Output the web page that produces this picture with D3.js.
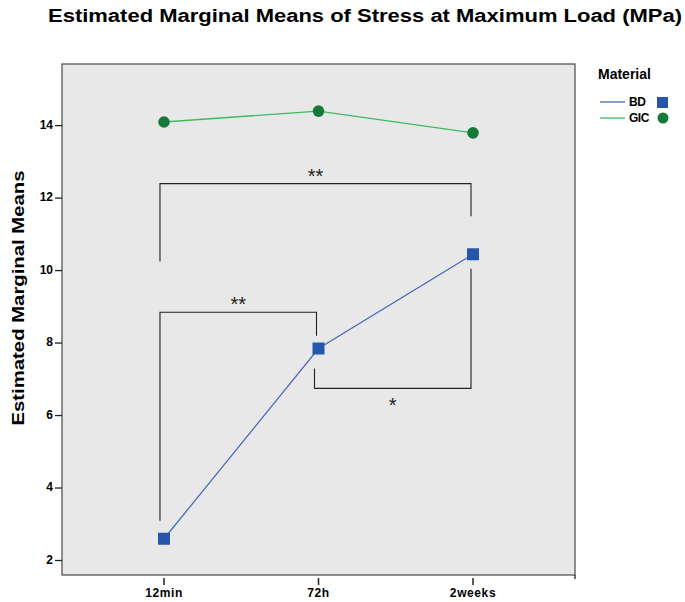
<!DOCTYPE html>
<html>
<head>
<meta charset="utf-8">
<script src="https://cdn.jsdelivr.net/npm/d3@7"></script>
<style>
  body { margin: 0; background: #fff; }
  text { font-family: "Liberation Sans", Arial, sans-serif; }
</style>
</head>
<body>
<svg id="chart" width="685" height="602"></svg>
<script>
// data
var times = ["12min", "72h", "2weeks"];
var bdMeans = [2.6, 7.85, 10.45];
var gicMeans = [14.1, 14.4, 13.8];
var yTicks = [2, 4, 6, 8, 10, 12, 14];

// significance brackets: from / to category, y of left end, bar, right end
var brackets = [
  { a: 0, b: 2, y1: 10.25, y2: 12.4, y3: 11.5, label: "**" },
  { a: 0, b: 1, y1: 3.1, y2: 8.85, y3: 8.2, label: "**" },
  { a: 1, b: 2, y1: 7.3, y2: 6.75, y3: 10.05, label: "*" }
];

var svg = d3.select("#chart");
var plotL = 62, plotR = 575, plotT = 64, plotB = 575;

var x = d3.scalePoint().domain(times).range([plotL, plotR]).padding(0.66);
var y = d3.scaleLinear().domain([1.6, 15.7]).range([plotB, plotT]);

// title
svg.append("text")
  .attr("x", 48).attr("y", 22)
  .attr("font-size", 18).attr("font-weight", "bold")
  .attr("textLength", 634).attr("lengthAdjust", "spacingAndGlyphs")
  .text("Estimated Marginal Means of Stress at Maximum Load (MPa)");

// plot area
svg.append("rect")
  .attr("x", plotL).attr("y", plotT)
  .attr("width", plotR - plotL).attr("height", plotB - plotT)
  .attr("fill", "#e8e8e8")
  .attr("stroke", "#555").attr("stroke-width", 1.3);

// y axis ticks
var yg = svg.append("g");
yTicks.forEach(function(t){
  yg.append("line")
    .attr("x1", plotL - 7).attr("x2", plotL)
    .attr("y1", y(t)).attr("y2", y(t))
    .attr("stroke", "#222").attr("stroke-width", 1.3);
  yg.append("text")
    .attr("x", plotL - 9).attr("y", y(t) + 3)
    .attr("text-anchor", "end")
    .attr("font-size", 12).attr("font-weight", "bold")
    .text(t);
});

svg.append("text")
  .attr("transform", "translate(24,298) rotate(-90)")
  .attr("text-anchor", "middle")
  .attr("font-size", 17).attr("font-weight", "bold")
  .attr("textLength", 255).attr("lengthAdjust", "spacingAndGlyphs")
  .text("Estimated Marginal Means");

// x axis ticks
var xg = svg.append("g");
times.forEach(function(t){
  xg.append("line")
    .attr("x1", x(t)).attr("x2", x(t))
    .attr("y1", plotB + 3).attr("y2", plotB + 10)
    .attr("stroke", "#222").attr("stroke-width", 1.5);
  xg.append("text")
    .attr("x", x(t)).attr("y", 597)
    .attr("text-anchor", "middle")
    .attr("font-size", 12).attr("font-weight", "bold")
    .attr("letter-spacing", 0.6)
    .text(t);
});
xg.append("line")
  .attr("x1", plotR).attr("x2", plotR)
  .attr("y1", plotB).attr("y2", plotB + 4)
  .attr("stroke", "#222").attr("stroke-width", 1.3);

// brackets
var bg = svg.append("g");
brackets.forEach(function(b){
  var xa = x(times[b.a]) - 4, xb = x(times[b.b]) - 2;
  var pts = [[xa, y(b.y1)], [xa, y(b.y2)], [xb, y(b.y2)], [xb, y(b.y3)]];
  bg.append("path")
    .attr("d", d3.line()(pts))
    .attr("fill", "none").attr("stroke", "#222").attr("stroke-width", 1.1);
  bg.append("text")
    .attr("x", (xa + xb) / 2)
    .attr("y", b.y2 > b.y1 || b.y2 > b.y3 ? y(b.y2) - 1 : y(b.y2) + 24)
    .attr("text-anchor", "middle")
    .attr("font-size", 20)
    .attr("fill", "#222")
    .text(b.label);
});

// series lines
var line = d3.line().x(function(d, i){ return x(times[i]); }).y(function(d){ return y(d); });

svg.append("path").datum(gicMeans)
  .attr("d", line).attr("fill", "none")
  .attr("stroke", "#3dbb5c").attr("stroke-width", 1.3);
svg.append("path").datum(bdMeans)
  .attr("d", line).attr("fill", "none")
  .attr("stroke", "#4a6cb8").attr("stroke-width", 1.3);

svg.selectAll(".gic").data(gicMeans).enter().append("circle")
  .attr("class", "gic")
  .attr("cx", function(d, i){ return x(times[i]); })
  .attr("cy", function(d){ return y(d); })
  .attr("r", 5.8)
  .attr("fill", "#137a3a");

svg.selectAll(".bd").data(bdMeans).enter().append("rect")
  .attr("class", "bd")
  .attr("x", function(d, i){ return x(times[i]) - 6; })
  .attr("y", function(d){ return y(d) - 6; })
  .attr("width", 12).attr("height", 12)
  .attr("fill", "#2457ab");

// legend
var lg = svg.append("g");
lg.append("text").attr("x", 598).attr("y", 79)
  .attr("font-size", 14).attr("font-weight", "bold").text("Material");
lg.append("line").attr("x1", 600).attr("x2", 625).attr("y1", 102).attr("y2", 102)
  .attr("stroke", "#4a6cb8").attr("stroke-width", 1.3);
lg.append("text").attr("x", 629).attr("y", 106)
  .attr("font-size", 12).attr("font-weight", "bold").attr("letter-spacing", -0.5).text("BD");
lg.append("rect").attr("x", 657).attr("y", 97).attr("width", 11).attr("height", 11)
  .attr("fill", "#2457ab");
lg.append("line").attr("x1", 600).attr("x2", 625).attr("y1", 118).attr("y2", 118)
  .attr("stroke", "#3dbb5c").attr("stroke-width", 1.3);
lg.append("text").attr("x", 629).attr("y", 122)
  .attr("font-size", 12).attr("font-weight", "bold").attr("letter-spacing", -0.5).text("GIC");
lg.append("circle").attr("cx", 663).attr("cy", 118).attr("r", 5.5)
  .attr("fill", "#137a3a");
</script>
</body>
</html>
